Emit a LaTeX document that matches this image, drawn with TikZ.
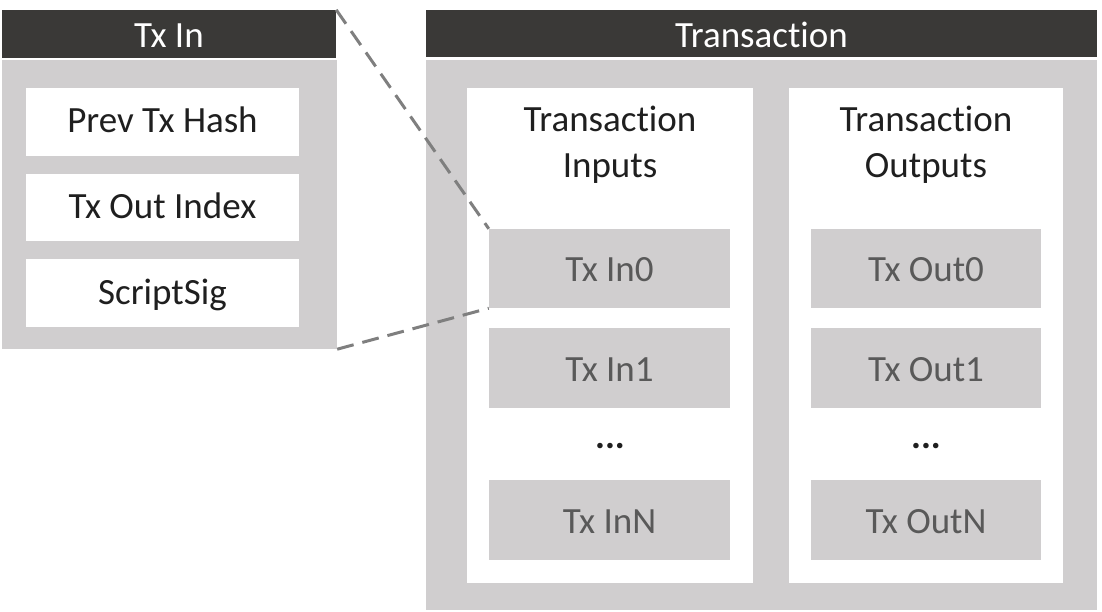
\documentclass[tikz,border=0pt]{standalone}
\usepackage{fontspec}
\setmainfont{Carlito}[Ligatures=NoCommon]
\definecolor{hdr}{HTML}{3A3937}
\definecolor{panel}{HTML}{D0CECF}
\definecolor{dimtext}{HTML}{595959}
\definecolor{darktext}{HTML}{1F1F1F}
\definecolor{dashc}{HTML}{7F7F7F}
\tikzset{
  header/.style={fill=hdr, text=white, inner sep=0pt, font=\fontsize{37}{44}\selectfont, text height=27.5pt, text depth=0pt},
  body/.style={fill=panel, inner sep=0pt},
  column/.style={fill=white, inner sep=0pt},
  field/.style={fill=white, text=darktext, inner sep=0pt, font=\fontsize{37}{44}\selectfont, text height=22pt, text depth=0pt},
  item/.style={fill=panel, text=dimtext, inner sep=0pt, font=\fontsize{37}{44}\selectfont, text height=26.5pt, text depth=0pt},
  coltitle/.style={text=darktext, inner sep=0pt, align=center, font=\fontsize{37}{46}\selectfont},
  dotstext/.style={text=darktext, inner sep=0pt, font=\bfseries\fontsize{37}{44}\selectfont, anchor=base},
  zoomline/.style={draw=dashc, line width=3pt, dash pattern=on 17pt off 9pt},
}
\begin{document}
\begin{tikzpicture}[x=1pt,y=-1pt]
\useasboundingbox (0,0) rectangle (1102,612);
% Tx In panel
\node[header, minimum width=334pt, minimum height=48pt] (txinhdr) at (169,34) {Tx In};
\node[body, minimum width=335pt, minimum height=289pt] (txinbody) at (169.5,204.5) {};
\node[field, minimum width=273pt, minimum height=68pt] (prev) at (162.5,122) {Prev Tx Hash};
\node[field, minimum width=273pt, minimum height=67pt] (outidx) at (162.5,207.5) {Tx Out Index};
\node[field, minimum width=273pt, minimum height=68pt] (sig) at (162.5,293) {ScriptSig};
% Transaction panel
\node[header, minimum width=671pt, minimum height=47pt] (txhdr) at (761.5,33.5) {Transaction};
\node[body, minimum width=671pt, minimum height=550pt] (txbody) at (761.5,335) {};
\node[column, minimum width=286pt, minimum height=495pt] (incol) at (610,335.5) {};
\node[column, minimum width=274pt, minimum height=495pt] (outcol) at (926,335.5) {};
\node[coltitle, anchor=north] (intitle) at (610,106) {Transaction\\Inputs};
\node[coltitle, anchor=north] (outtitle) at (926,106) {Transaction\\Outputs};
\node[item, minimum width=241pt, minimum height=79pt] (in0) at (609.5,268.5) {Tx In0};
\node[item, minimum width=241pt, minimum height=80pt] (in1) at (609.5,368) {Tx In1};
\node[item, minimum width=241pt, minimum height=80pt] (inN) at (609.5,520) {Tx InN};
\node[dotstext] (indots) at (610,448) {...};
\node[item, minimum width=230pt, minimum height=79pt] (out0) at (926,268.5) {Tx Out0};
\node[item, minimum width=230pt, minimum height=80pt] (out1) at (926,368) {Tx Out1};
\node[item, minimum width=230pt, minimum height=80pt] (outN) at (926,520) {Tx OutN};
\node[dotstext] (outdots) at (926,448) {...};
% zoom lines
\draw[zoomline] (txinhdr.north east) -- (in0.north west);
\draw[zoomline] (txinbody.south east) -- (in0.south west);
\end{tikzpicture}
\end{document}
